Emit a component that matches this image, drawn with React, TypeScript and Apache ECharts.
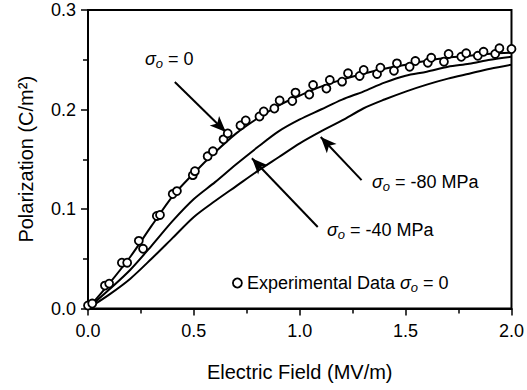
import React, { useEffect, useRef } from "react";
import * as echarts from "echarts";

const fieldE = [0, 0.1, 0.2, 0.3, 0.4, 0.5, 0.6, 0.7, 0.8, 0.9, 1.0, 1.1, 1.2, 1.3, 1.4, 1.5, 1.6, 1.7, 1.8, 1.9, 2.0];
const polZero = [0, 0.025, 0.052, 0.083, 0.113, 0.136, 0.157, 0.176, 0.191, 0.204, 0.214, 0.223, 0.23, 0.236, 0.241, 0.245, 0.249, 0.252, 0.254, 0.256, 0.257];
const polMinus40 = [0, 0.019, 0.039, 0.063, 0.088, 0.11, 0.127, 0.145, 0.162, 0.178, 0.19, 0.2, 0.21, 0.218, 0.227, 0.234, 0.238, 0.243, 0.246, 0.25, 0.253];
const polMinus80 = [0, 0.014, 0.03, 0.05, 0.071, 0.092, 0.108, 0.123, 0.138, 0.152, 0.166, 0.178, 0.189, 0.201, 0.21, 0.218, 0.225, 0.231, 0.236, 0.241, 0.245];

const expE = [0.0, 0.02, 0.08, 0.1, 0.16, 0.185, 0.24, 0.26, 0.325, 0.34, 0.4, 0.42, 0.495, 0.505, 0.565, 0.59, 0.64, 0.66, 0.72, 0.745, 0.81, 0.83, 0.88, 0.905, 0.965, 0.98, 1.045, 1.063, 1.126, 1.142, 1.2, 1.228, 1.283, 1.302, 1.365, 1.381, 1.445, 1.459, 1.519, 1.546, 1.605, 1.621, 1.681, 1.703, 1.763, 1.786, 1.841, 1.868, 1.923, 1.943, 2.0];
const expP = [0.003, 0.005, 0.023, 0.025, 0.046, 0.046, 0.068, 0.06, 0.093, 0.094, 0.115, 0.118, 0.134, 0.138, 0.153, 0.158, 0.17, 0.176, 0.184, 0.189, 0.193, 0.198, 0.201, 0.209, 0.2085, 0.217, 0.215, 0.2246, 0.221, 0.2296, 0.228, 0.2364, 0.2337, 0.2397, 0.2357, 0.242, 0.239, 0.2464, 0.243, 0.2487, 0.247, 0.252, 0.248, 0.2558, 0.253, 0.2565, 0.254, 0.258, 0.2558, 0.2615, 0.2608];

// arrows: [startE, startP, tipE, tipP]
const arrowZero = [0.41, 0.2276, 0.651, 0.1774];
const arrowMinus80 = [1.292, 0.129, 1.099, 0.1724];
const arrowMinus40 = [1.085, 0.0819, 0.774, 0.151];

const xTicks = ["0.0", "0.5", "1.0", "1.5", "2.0"];
const yTicks = ["0.0", "0.1", "0.2", "0.3"];

const FONT = "'Liberation Sans', Arial, Helvetica, sans-serif";

const richStyles = {
  s: { fontSize: 18, fontFamily: FONT, fontStyle: "italic", fill: "#000", color: "#000", lineHeight: 22 },
  sub: { fontSize: 13, fontFamily: FONT, fontStyle: "italic", fill: "#000", color: "#000", verticalAlign: "bottom", lineHeight: 13 },
  n: { fontSize: 18, fontFamily: FONT, fill: "#000", color: "#000", lineHeight: 22 },
};

function sigmaText(x: number, y: number, rest: string) {
  return {
    type: "text",
    left: x,
    top: y,
    silent: true,
    style: {
      text: "{s|σ}{sub|o}{n|" + rest + "}",
      rich: richStyles,
      fill: "#000",
    },
  };
}

export default function App() {
  const ref = useRef<HTMLDivElement>(null);
  useEffect(() => {
    if (!ref.current) return;
    const chart = echarts.init(ref.current, null, { renderer: "svg" });
    const zip = (a: number[], b: number[]) => a.map((v, i) => [v, b[i]]);
    const arrow = (a: number[]) => [
      { coord: [a[0], a[1]], symbol: "none" },
      { coord: [a[2], a[3]], symbol: "arrow" },
    ];
    const lineSeries = (name: string, data: number[]) => ({
      name,
      type: "line",
      data: zip(fieldE, data),
      smooth: 0.3,
      symbol: "none",
      lineStyle: { color: "#000", width: 2 },
      silent: true,
    });
    chart.setOption({
      animation: false,
      backgroundColor: "#fff",
      grid: { left: 88, right: 15, top: 10, bottom: 81.5, show: true, borderColor: "#000", borderWidth: 2, backgroundColor: "transparent" },
      legend: {
        data: ["exp"],
        left: 227,
        top: 269,
        itemWidth: 9,
        itemHeight: 9,
        icon: "circle",
        itemStyle: { color: "#fff", borderColor: "#000", borderWidth: 1.8, opacity: 1 },
        formatter: () => "{n|Experimental Data }{s|σ}{sub|o}{n| = 0}",
        textStyle: { rich: richStyles },
        selectedMode: false,
      },
      xAxis: {
        type: "value",
        min: 0,
        max: 2,
        interval: 0.5,
        name: "Electric Field (MV/m)",
        nameLocation: "middle",
        nameGap: 53,
        nameTextStyle: { fontSize: 20, fontFamily: FONT, color: "#000" },
        axisLine: { show: true, lineStyle: { color: "#000", width: 2 } },
        axisTick: { show: true, inside: false, length: 7, lineStyle: { color: "#000", width: 1.5 } },
        minorTick: { show: true, splitNumber: 2, length: 5, lineStyle: { color: "#000", width: 1.5 } },
        splitLine: { show: false },
        axisLabel: { margin: 13, fontSize: 18, fontFamily: FONT, color: "#000", formatter: (v: number) => xTicks[Math.round(v / 0.5)] ?? v.toFixed(1) },
      },
      yAxis: {
        type: "value",
        min: 0,
        max: 0.3,
        interval: 0.1,
        name: "Polarization (C/m²)",
        nameLocation: "middle",
        nameGap: 52,
        nameTextStyle: { fontSize: 20, fontFamily: FONT, color: "#000" },
        axisLine: { show: true, lineStyle: { color: "#000", width: 2 } },
        axisTick: { show: true, inside: false, length: 7, lineStyle: { color: "#000", width: 1.5 } },
        minorTick: { show: true, splitNumber: 2, length: 5, lineStyle: { color: "#000", width: 1.5 } },
        splitLine: { show: false },
        axisLabel: { margin: 12, fontSize: 18, fontFamily: FONT, color: "#000", formatter: (v: number) => yTicks[Math.round(v / 0.1)] ?? v.toFixed(1) },
      },
      series: [
        {
          ...lineSeries("zero", polZero),
          markLine: {
            silent: true,
            symbolSize: [10, 16],
            label: { show: false },
            lineStyle: { color: "#000", width: 2, type: "solid", opacity: 1 },
            data: [arrow(arrowZero), arrow(arrowMinus80), arrow(arrowMinus40)],
          },
        },
        lineSeries("m40", polMinus40),
        lineSeries("m80", polMinus80),
        {
          name: "exp",
          type: "scatter",
          data: zip(expE, expP),
          symbol: "circle",
          symbolSize: 8,
          itemStyle: { color: "#fff", borderColor: "#000", borderWidth: 1.8, opacity: 1 },
          silent: true,
          z: 5,
        },
      ],
      graphic: [
        sigmaText(145, 50, " = 0"),
        sigmaText(372, 173, " = -80 MPa"),
        sigmaText(327, 221, " = -40 MPa"),
      ],
    });
    return () => chart.dispose();
  }, []);
  return <div ref={ref} style={{ position: "fixed", left: 0, top: 0, width: 527, height: 390 }} />;
}
